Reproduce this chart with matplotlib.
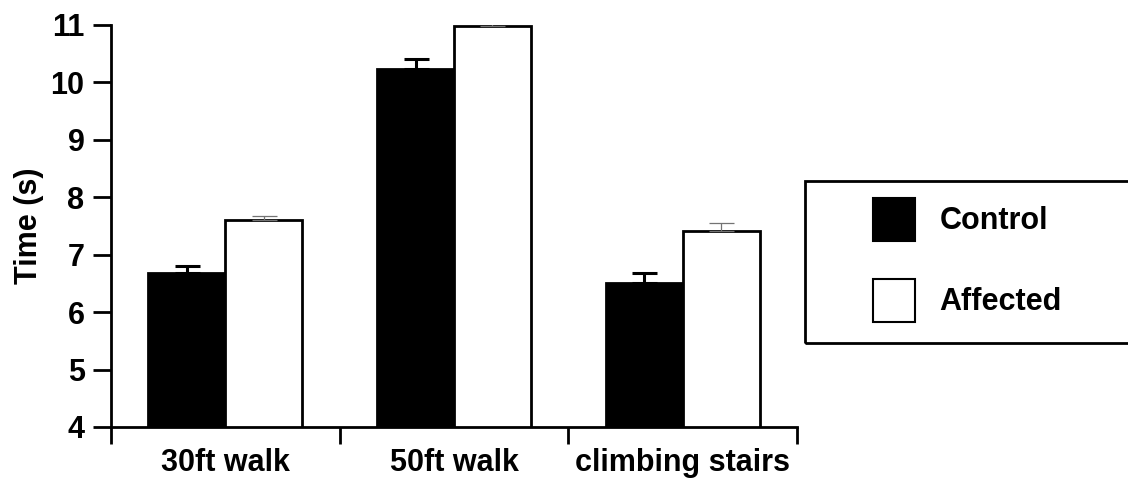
import matplotlib.pyplot as plt
from matplotlib.patches import Patch, Rectangle
import numpy as np

plt.rcParams['font.family'] = ['Liberation Sans', 'DejaVu Sans']
plt.rcParams['font.weight'] = 'bold'

tasks = ['30ft walk', '50ft walk', 'climbing stairs']
control = [6.68, 10.23, 6.50]
control_err = [0.13, 0.17, 0.18]
affected = [7.60, 10.99, 7.41]
affected_err = [0.07, 0.07, 0.15]

fig = plt.figure(figsize=(11.28, 4.78), dpi=100)
ax = fig.add_axes([0.0984, 0.1067, 0.6082, 0.841])

centers = np.arange(len(tasks)) + 0.5
w = 0.336
lw = 2.0

ax.bar(centers - w / 2, control, width=w, color='black',
       edgecolor='black', linewidth=lw, zorder=2)
ax.bar(centers + w / 2, affected, width=w, color='white',
       edgecolor='black', linewidth=lw, zorder=2)

# upper error bars only
ax.errorbar(centers - w / 2, control, yerr=[np.zeros(3), control_err],
            fmt='none', ecolor='black', elinewidth=2.2, capsize=9,
            capthick=2.2, zorder=3)
ax.errorbar(centers + w / 2, affected, yerr=[np.zeros(3), affected_err],
            fmt='none', ecolor='0.45', elinewidth=0.9, capsize=9,
            capthick=0.9, zorder=3)

ax.set_xlim(0, 3)
ax.set_ylim(4, 11)
ax.set_yticks(range(4, 12))
ax.set_ylabel('Time (s)', fontsize=22, fontweight='bold', labelpad=5)

# group boundaries as ticks, names centred between them
ax.set_xticks([0, 1, 2, 3])
ax.set_xticklabels([])
ax.set_xticks(centers, minor=True)
ax.set_xticklabels(tasks, minor=True, fontsize=22, fontweight='bold')
ax.tick_params(axis='x', which='major', direction='out', length=12,
               width=lw)
ax.tick_params(axis='x', which='minor', length=0, pad=15)
ax.tick_params(axis='y', direction='out', length=13, width=lw,
               labelsize=22, pad=6)

for s in ['top', 'right']:
    ax.spines[s].set_visible(False)
for s in ['left', 'bottom']:
    ax.spines[s].set_linewidth(lw)

# legend box running off the right edge
fig.patches.append(Rectangle((805 / 1128, 1 - 343 / 478), 0.4, 162 / 478,
                             transform=fig.transFigure, fill=False,
                             edgecolor='black', linewidth=lw))
handles = [Patch(facecolor='black', edgecolor='black', linewidth=1.5),
           Patch(facecolor='white', edgecolor='black', linewidth=1.5)]
fig.legend(handles, ['Control', 'Affected'], loc='upper left',
           bbox_to_anchor=(873 / 1128, 1 - 198 / 478), frameon=False,
           prop={'size': 22, 'weight': 'bold'}, borderpad=0,
           borderaxespad=0, handlelength=1.37, handleheight=1.78,
           handletextpad=0.8, labelspacing=1.25)

fig.savefig('out.png', dpi=100)
